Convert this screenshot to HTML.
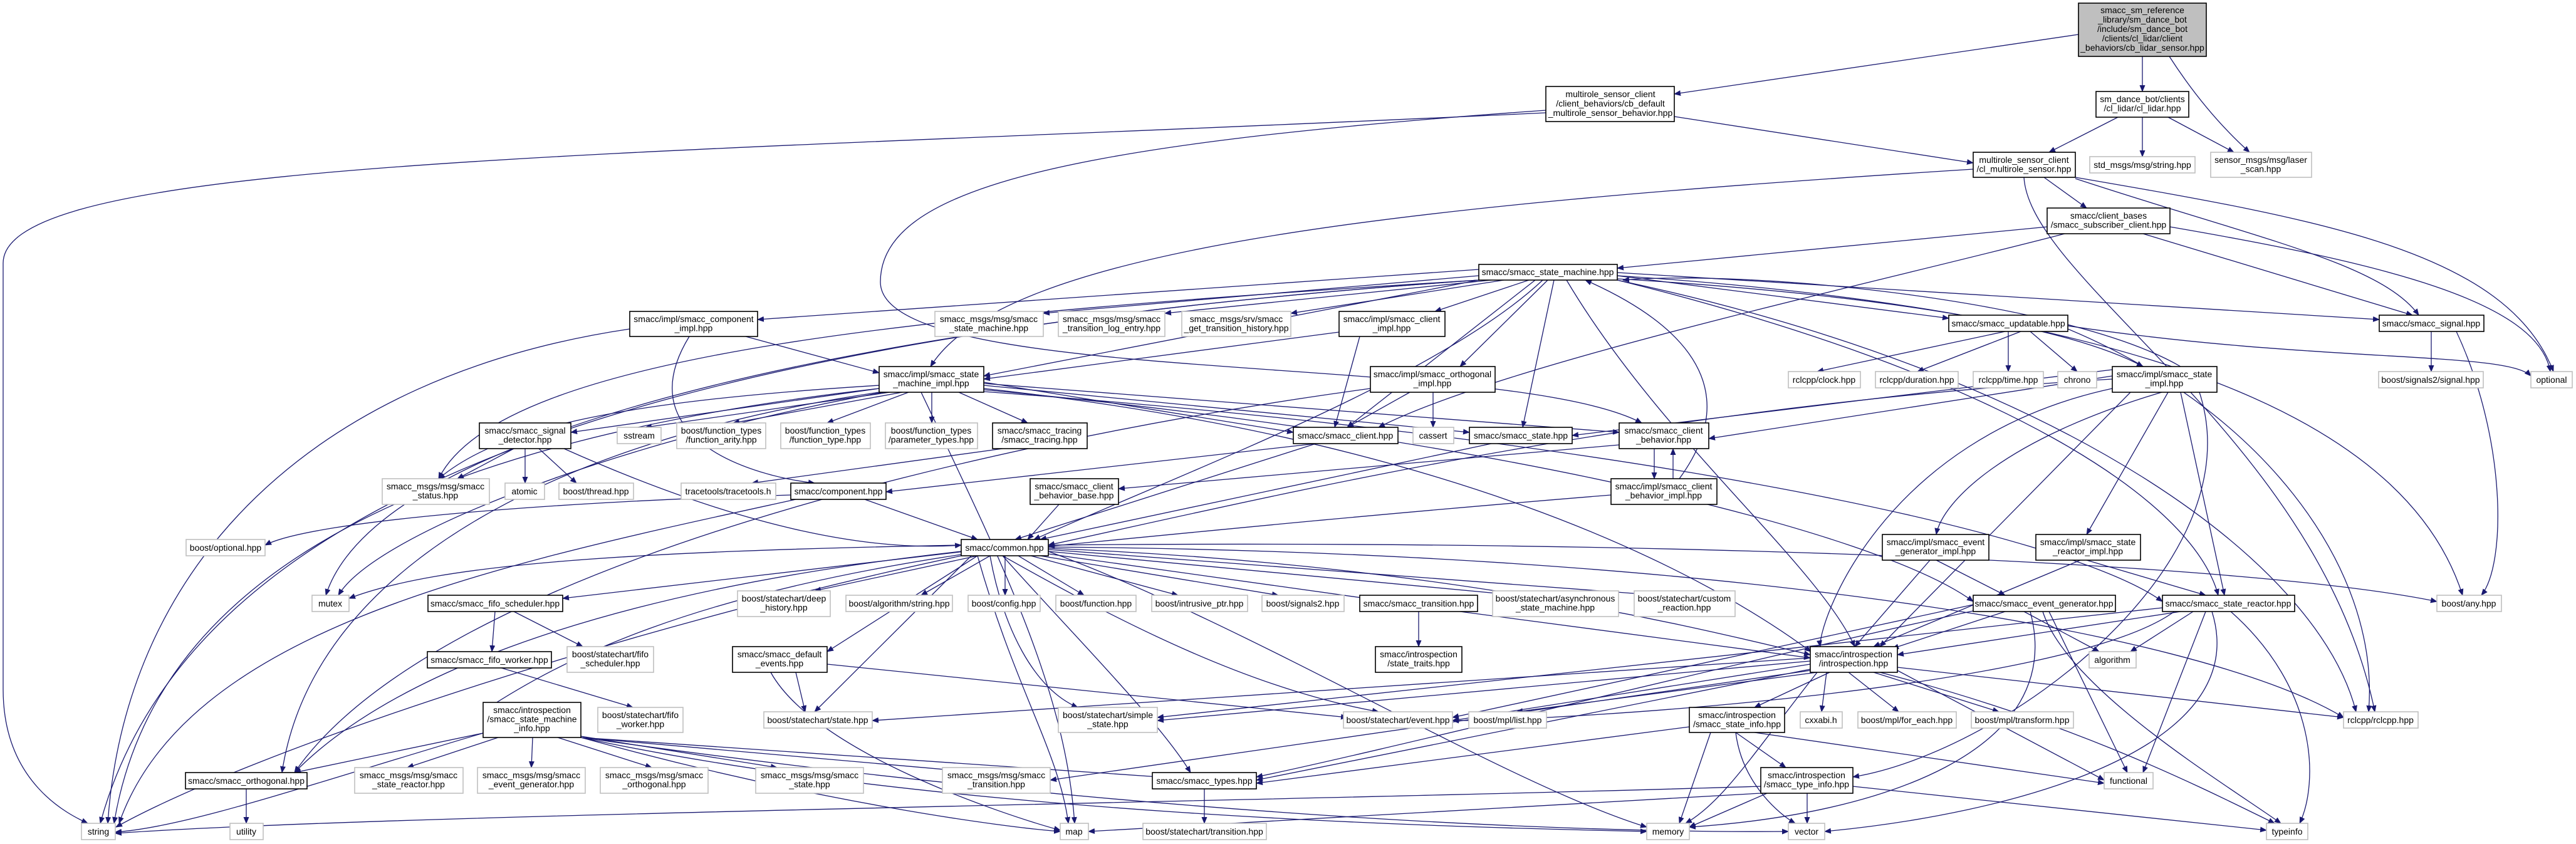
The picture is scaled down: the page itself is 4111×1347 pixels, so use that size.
<!DOCTYPE html>
<html><head><meta charset="utf-8"><style>
html,body{margin:0;padding:0;background:#fff;}
svg{display:block;}
text{font-family:"Liberation Sans",sans-serif;font-size:14px;fill:#000;text-anchor:middle;}
.d{fill:#fff;stroke:#000;stroke-width:1.6;}
.e{fill:#fff;stroke:#bfbfbf;stroke-width:1.6;}
.t{fill:#bfbfbf;stroke:#000;stroke-width:1.6;}
</style></head><body>
<svg width="4111" height="1347" viewBox="0 0 4111 1347" xmlns="http://www.w3.org/2000/svg">
<defs><marker id="a" markerWidth="11" markerHeight="9" refX="10" refY="4.5" orient="auto" markerUnits="userSpaceOnUse"><path d="M0,0 L11,4.5 L0,9 z" fill="#191970"/></marker></defs>
<g stroke="#191970" stroke-width="1.3" fill="none" marker-end="url(#a)">
<path d="M3317,55 L2672,150"/>
<path d="M3419,90 L3419,146"/>
<path d="M3462,90 Q3520,180 3590,243"/>
<path d="M3380,187 L3270,243"/>
<path d="M3419,187 L3419,250"/>
<path d="M3460,187 L3565,243"/>
<path d="M2672,186 L3149,260"/>
<path d="M2467,180 C1000,250 5,250 5,420 L5,1100 C5,1250 110,1300 140,1314"/>
<path d="M2467,176 C1700,230 1405,300 1405,450 C1405,620 2400,560 2620,675"/>
<path d="M3149,270 C2200,330 1600,400 1485,585"/>
<path d="M3262,283 L3330,332"/>
<path d="M3312,285 C3600,380 3800,420 3860,503"/>
<path d="M3312,283 C3700,350 4000,400 4075,593"/>
<path d="M3230,283 C3240,450 3700,700 3790,1136"/>
<path d="M3267,362 L2581,428"/>
<path d="M3295,373 C3000,450 2400,580 2200,682"/>
<path d="M3420,373 L3850,503"/>
<path d="M3463,362 C3800,420 4050,480 4070,593"/>
<path d="M2360,430 L1209,510"/>
<path d="M2360,440 L1665,500"/>
<path d="M2380,447 L1859,500"/>
<path d="M2400,447 L2060,500"/>
<path d="M2440,447 L2290,497"/>
<path d="M2360,447 L1570,600"/>
<path d="M2470,447 L2330,585"/>
<path d="M2480,447 L2430,682"/>
<path d="M2462,447 C2300,600 1900,750 1650,861"/>
<path d="M2581,440 L3110,508"/>
<path d="M2581,435 L3797,510"/>
<path d="M2581,445 C3000,470 3300,520 3420,585"/>
<path d="M2500,447 C2650,700 2900,900 2960,1032"/>
<path d="M2581,440 C3500,500 3850,700 3930,950"/>
<path d="M2581,447 C3300,600 3700,900 3760,1136"/>
<path d="M2360,447 C1500,500 800,560 700,764"/>
<path d="M2360,447 C1300,520 600,700 520,950"/>
<path d="M2450,447 L2150,682"/>
<path d="M2581,447 C3200,600 3500,800 3540,950"/>
<path d="M2360,447 C1000,540 300,800 160,1314"/>
<path d="M1190,537 L1403,595"/>
<path d="M1100,537 C1000,700 1200,760 1300,771"/>
<path d="M1005,525 C500,600 200,900 172,1314"/>
<path d="M2137,530 L1570,605"/>
<path d="M2170,537 L2130,682"/>
<path d="M2250,626 L2150,682"/>
<path d="M2287,626 L2287,682"/>
<path d="M2187,620 C1600,700 700,900 470,1233"/>
<path d="M3371,590 L2509,695"/>
<path d="M3371,600 L2727,700"/>
<path d="M3371,605 C2600,650 2000,800 1673,870"/>
<path d="M3450,626 C3200,700 3100,800 3090,853"/>
<path d="M3460,626 L3330,853"/>
<path d="M3400,626 L3000,1032"/>
<path d="M3480,626 L3550,950"/>
<path d="M3510,626 C3600,900 3200,1200 2957,1240"/>
<path d="M3480,585 C3300,480 2800,430 2590,447"/>
<path d="M3371,620 C3000,700 2900,1000 2905,1032"/>
<path d="M3200,529 L2900,593"/>
<path d="M3225,529 L3060,593"/>
<path d="M3205,529 L3205,593"/>
<path d="M3240,529 L3315,593"/>
<path d="M3300,520 C3700,580 4000,560 4039,600"/>
<path d="M3300,525 C3600,650 3800,900 3780,1136"/>
<path d="M3880,529 L3880,593"/>
<path d="M3920,529 C4000,700 4000,900 3960,950"/>
<path d="M1403,615 C1000,640 800,680 700,764"/>
<path d="M1403,620 L911,690"/>
<path d="M1420,626 L1030,682"/>
<path d="M1440,626 L1170,675"/>
<path d="M1450,626 L1320,675"/>
<path d="M1487,626 L1487,675"/>
<path d="M1530,626 L1640,675"/>
<path d="M1570,610 L2064,690"/>
<path d="M1570,615 L2345,690"/>
<path d="M1403,626 C900,700 500,900 450,1233"/>
<path d="M1403,620 C700,700 250,900 182,1314"/>
<path d="M1470,626 C1600,900 1700,1100 1715,1314"/>
<path d="M1570,620 C2300,700 2700,900 2890,1040"/>
<path d="M1570,622 C2400,700 3000,850 3149,960"/>
<path d="M1570,625 C2600,700 3300,850 3451,960"/>
<path d="M1410,626 C1000,700 600,850 540,950"/>
<path d="M1570,612 L2584,690"/>
<path d="M820,716 L730,764"/>
<path d="M838,716 L838,771"/>
<path d="M860,716 L920,771"/>
<path d="M900,716 C1200,850 1400,880 1534,870"/>
<path d="M1600,716 L1200,771"/>
<path d="M2100,708 L1414,785"/>
<path d="M2100,708 L1620,861"/>
<path d="M2380,708 L1660,861"/>
<path d="M2584,710 L1785,780"/>
<path d="M2640,716 L2640,764"/>
<path d="M2670,764 L2670,716"/>
<path d="M2680,764 C2800,600 2650,500 2530,447"/>
<path d="M1380,797 L1560,861"/>
<path d="M1262,790 C900,800 500,830 423,870"/>
<path d="M1270,797 C800,900 300,1000 190,1314"/>
<path d="M1690,805 L1640,861"/>
<path d="M2571,790 C2200,820 1900,850 1673,872"/>
<path d="M1534,870 C1000,880 700,900 557,955"/>
<path d="M1540,880 L898,955"/>
<path d="M1560,887 L1300,943"/>
<path d="M1580,887 L1470,950"/>
<path d="M1604,887 L1604,950"/>
<path d="M1625,887 L1730,950"/>
<path d="M1645,887 L1880,950"/>
<path d="M1660,887 L2040,950"/>
<path d="M1673,884 L2180,955"/>
<path d="M1673,880 L2400,948"/>
<path d="M1673,877 L2620,948"/>
<path d="M1534,880 C900,950 600,1100 470,1233"/>
<path d="M1534,885 C1100,950 900,1050 771,1135"/>
<path d="M1560,887 L1320,1040"/>
<path d="M1550,887 L1300,1136"/>
<path d="M1580,887 C1600,1000 1650,1100 1720,1129"/>
<path d="M1600,887 C1700,1000 1850,1150 1900,1233"/>
<path d="M1560,887 C1620,1100 1690,1200 1705,1314"/>
<path d="M1673,875 C2300,900 2700,1000 2889,1045"/>
<path d="M1673,870 C2700,860 3600,900 3889,960"/>
<path d="M1673,873 C2700,880 3500,1000 3740,1145"/>
<path d="M1600,887 C1800,1000 2000,1100 2200,1136"/>
<path d="M1534,887 C1000,1000 400,1200 185,1320"/>
<path d="M1673,880 C2000,1000 2400,1250 2628,1320"/>
<path d="M790,976 L785,1040"/>
<path d="M820,976 L930,1032"/>
<path d="M800,1066 L1010,1129"/>
<path d="M1270,1073 L1285,1136"/>
<path d="M1320,1060 L2150,1145"/>
<path d="M1230,1073 C1300,1200 1600,1300 1692,1325"/>
<path d="M2264,976 L2264,1032"/>
<path d="M2330,976 L2889,1050"/>
<path d="M771,1170 L470,1233"/>
<path d="M795,1177 L650,1225"/>
<path d="M850,1177 L848,1225"/>
<path d="M890,1177 L1040,1225"/>
<path d="M927,1175 L1240,1225"/>
<path d="M927,1177 L1530,1230"/>
<path d="M927,1177 L1850,1240"/>
<path d="M771,1170 C500,1250 300,1320 184,1328"/>
<path d="M927,1177 C1300,1280 1600,1320 1692,1327"/>
<path d="M927,1177 C1500,1300 2300,1320 2628,1327"/>
<path d="M927,1177 C1800,1300 2500,1330 2854,1327"/>
<path d="M3200,976 L3020,1035"/>
<path d="M3230,976 L3350,1040"/>
<path d="M3149,965 L2318,1145"/>
<path d="M3260,976 C3300,1100 3550,1250 3640,1314"/>
<path d="M3270,976 L3395,1233"/>
<path d="M3149,975 C2800,1050 2200,1200 2005,1240"/>
<path d="M3240,976 C3300,1200 3000,1300 2696,1320"/>
<path d="M3480,976 L3028,1045"/>
<path d="M3500,976 L3400,1040"/>
<path d="M3520,976 L3420,1233"/>
<path d="M3530,976 C3600,1200 3200,1300 2912,1327"/>
<path d="M3560,976 C3700,1100 3700,1250 3670,1314"/>
<path d="M3451,970 L1847,1145"/>
<path d="M3470,976 C3300,1100 2500,1150 2318,1150"/>
<path d="M3090,894 L3200,950"/>
<path d="M3080,894 L2960,1032"/>
<path d="M3330,894 L3520,950"/>
<path d="M3320,894 L2990,1032"/>
<path d="M2889,1050 L1392,1150"/>
<path d="M2889,1055 L1847,1150"/>
<path d="M2889,1060 L2318,1150"/>
<path d="M2900,1073 L2420,1136"/>
<path d="M2920,1073 L2800,1129"/>
<path d="M2915,1073 L2907,1136"/>
<path d="M2950,1073 L3030,1136"/>
<path d="M2990,1073 L3190,1136"/>
<path d="M3028,1065 L3740,1145"/>
<path d="M2889,1068 L2005,1245"/>
<path d="M2900,1073 C2800,1200 2750,1280 2690,1314"/>
<path d="M3000,1073 C3300,1150 3500,1250 3630,1314"/>
<path d="M2889,1070 L1676,1245"/>
<path d="M3028,1070 L3358,1245"/>
<path d="M2770,1169 L2850,1225"/>
<path d="M2770,1169 C2780,1250 2840,1300 2865,1314"/>
<path d="M2800,1169 L3358,1250"/>
<path d="M2696,1160 L2005,1250"/>
<path d="M2730,1169 L2680,1314"/>
<path d="M2884,1266 L2884,1314"/>
<path d="M2957,1255 L3617,1325"/>
<path d="M2810,1255 C2000,1280 600,1300 184,1330"/>
<path d="M2820,1266 L2696,1320"/>
<path d="M2810,1266 L1737,1327"/>
<path d="M1922,1259 L1922,1314"/>
<path d="M393,1259 L393,1314"/>
</g>
<g>
<rect class="t" x="3317" y="5" width="204" height="85"/><text x="3419" y="21"><tspan x="3419">smacc_sm_reference</tspan><tspan x="3419" dy="15">_library/sm_dance_bot</tspan><tspan x="3419" dy="15">/include/sm_dance_bot</tspan><tspan x="3419" dy="15">/clients/cl_lidar/client</tspan><tspan x="3419" dy="15">_behaviors/cb_lidar_sensor.hpp</tspan></text>
<rect class="d" x="2467" y="138" width="205" height="56"/><text y="155"><tspan x="2570">multirole_sensor_client</tspan><tspan x="2570" dy="15">/client_behaviors/cb_default</tspan><tspan x="2570" dy="15">_multirole_sensor_behavior.hpp</tspan></text>
<rect class="d" x="3345" y="146" width="148" height="41"/><text y="163"><tspan x="3419">sm_dance_bot/clients</tspan><tspan x="3419" dy="14.5">/cl_lidar/cl_lidar.hpp</tspan></text>
<rect class="d" x="3149" y="243" width="163" height="40"/><text y="260"><tspan x="3230">multirole_sensor_client</tspan><tspan x="3230" dy="14.5">/cl_multirole_sensor.hpp</tspan></text>
<rect class="e" x="3335" y="250" width="168" height="26"/><text x="3419" y="268">std_msgs/msg/string.hpp</text>
<rect class="e" x="3528" y="243" width="161" height="40"/><text y="260"><tspan x="3608">sensor_msgs/msg/laser</tspan><tspan x="3608" dy="14.5">_scan.hpp</tspan></text>
<rect class="d" x="3267" y="332" width="196" height="41"/><text y="349"><tspan x="3365">smacc/client_bases</tspan><tspan x="3365" dy="14.5">/smacc_subscriber_client.hpp</tspan></text>
<rect class="d" x="2360" y="422" width="221" height="25"/><text x="2470" y="439">smacc/smacc_state_machine.hpp</text>
<rect class="d" x="1005" y="497" width="204" height="40"/><text y="514"><tspan x="1107">smacc/impl/smacc_component</tspan><tspan x="1107" dy="14.5">_impl.hpp</tspan></text>
<rect class="e" x="1492" y="497" width="173" height="40"/><text y="514"><tspan x="1578">smacc_msgs/msg/smacc</tspan><tspan x="1578" dy="14.5">_state_machine.hpp</tspan></text>
<rect class="e" x="1689" y="497" width="170" height="40"/><text y="514"><tspan x="1774">smacc_msgs/msg/smacc</tspan><tspan x="1774" dy="14.5">_transition_log_entry.hpp</tspan></text>
<rect class="e" x="1886" y="497" width="174" height="40"/><text y="514"><tspan x="1973">smacc_msgs/srv/smacc</tspan><tspan x="1973" dy="14.5">_get_transition_history.hpp</tspan></text>
<rect class="d" x="2137" y="497" width="169" height="40"/><text y="514"><tspan x="2221">smacc/impl/smacc_client</tspan><tspan x="2221" dy="14.5">_impl.hpp</tspan></text>
<rect class="d" x="3110" y="503" width="190" height="26"/><text x="3205" y="521">smacc/smacc_updatable.hpp</text>
<rect class="d" x="3797" y="503" width="167" height="26"/><text x="3880" y="521">smacc/smacc_signal.hpp</text>
<rect class="d" x="1403" y="585" width="167" height="41"/><text y="602"><tspan x="1486">smacc/impl/smacc_state</tspan><tspan x="1486" dy="14.5">_machine_impl.hpp</tspan></text>
<rect class="d" x="2187" y="585" width="199" height="41"/><text y="602"><tspan x="2286">smacc/impl/smacc_orthogonal</tspan><tspan x="2286" dy="14.5">_impl.hpp</tspan></text>
<rect class="e" x="2854" y="593" width="115" height="26"/><text x="2911" y="611">rclcpp/clock.hpp</text>
<rect class="e" x="2993" y="593" width="132" height="26"/><text x="3059" y="611">rclcpp/duration.hpp</text>
<rect class="e" x="3149" y="593" width="112" height="26"/><text x="3205" y="611">rclcpp/time.hpp</text>
<rect class="e" x="3284" y="593" width="62" height="26"/><text x="3315" y="611">chrono</text>
<rect class="d" x="3371" y="585" width="167" height="41"/><text y="602"><tspan x="3454">smacc/impl/smacc_state</tspan><tspan x="3454" dy="14.5">_impl.hpp</tspan></text>
<rect class="e" x="3796" y="593" width="167" height="26"/><text x="3879" y="611">boost/signals2/signal.hpp</text>
<rect class="e" x="4039" y="593" width="66" height="26"/><text x="4072" y="611">optional</text>
<rect class="d" x="765" y="675" width="146" height="41"/><text y="692"><tspan x="838">smacc/smacc_signal</tspan><tspan x="838" dy="14.5">_detector.hpp</tspan></text>
<rect class="e" x="985" y="682" width="70" height="26"/><text x="1020" y="700">sstream</text>
<rect class="e" x="1080" y="675" width="142" height="41"/><text y="692"><tspan x="1151">boost/function_types</tspan><tspan x="1151" dy="14.5">/function_arity.hpp</tspan></text>
<rect class="e" x="1246" y="675" width="143" height="41"/><text y="692"><tspan x="1317">boost/function_types</tspan><tspan x="1317" dy="14.5">/function_type.hpp</tspan></text>
<rect class="e" x="1413" y="675" width="147" height="41"/><text y="692"><tspan x="1486">boost/function_types</tspan><tspan x="1486" dy="14.5">/parameter_types.hpp</tspan></text>
<rect class="d" x="1584" y="675" width="151" height="41"/><text y="692"><tspan x="1659">smacc/smacc_tracing</tspan><tspan x="1659" dy="14.5">/smacc_tracing.hpp</tspan></text>
<rect class="d" x="2064" y="682" width="167" height="26"/><text x="2147" y="700">smacc/smacc_client.hpp</text>
<rect class="e" x="2255" y="682" width="65" height="26"/><text x="2287" y="700">cassert</text>
<rect class="d" x="2345" y="682" width="164" height="26"/><text x="2427" y="700">smacc/smacc_state.hpp</text>
<rect class="d" x="2584" y="675" width="143" height="41"/><text y="692"><tspan x="2655">smacc/smacc_client</tspan><tspan x="2655" dy="14.5">_behavior.hpp</tspan></text>
<rect class="e" x="610" y="764" width="171" height="41"/><text y="781"><tspan x="695">smacc_msgs/msg/smacc</tspan><tspan x="695" dy="14.5">_status.hpp</tspan></text>
<rect class="e" x="806" y="771" width="63" height="26"/><text x="837" y="789">atomic</text>
<rect class="e" x="892" y="771" width="119" height="26"/><text x="951" y="789">boost/thread.hpp</text>
<rect class="e" x="1087" y="771" width="151" height="26"/><text x="1162" y="789">tracetools/tracetools.h</text>
<rect class="d" x="1262" y="771" width="152" height="26"/><text x="1338" y="789">smacc/component.hpp</text>
<rect class="d" x="1644" y="764" width="141" height="41"/><text y="781"><tspan x="1714">smacc/smacc_client</tspan><tspan x="1714" dy="14.5">_behavior_base.hpp</tspan></text>
<rect class="d" x="2571" y="764" width="169" height="41"/><text y="781"><tspan x="2655">smacc/impl/smacc_client</tspan><tspan x="2655" dy="14.5">_behavior_impl.hpp</tspan></text>
<rect class="e" x="297" y="861" width="126" height="26"/><text x="360" y="879">boost/optional.hpp</text>
<rect class="d" x="1534" y="861" width="139" height="26"/><text x="1603" y="879">smacc/common.hpp</text>
<rect class="d" x="3004" y="853" width="170" height="41"/><text y="870"><tspan x="3089">smacc/impl/smacc_event</tspan><tspan x="3089" dy="14.5">_generator_impl.hpp</tspan></text>
<rect class="d" x="3249" y="853" width="167" height="41"/><text y="870"><tspan x="3332">smacc/impl/smacc_state</tspan><tspan x="3332" dy="14.5">_reactor_impl.hpp</tspan></text>
<rect class="e" x="498" y="950" width="59" height="26"/><text x="527" y="968">mutex</text>
<rect class="d" x="683" y="950" width="215" height="26"/><text x="790" y="968">smacc/smacc_fifo_scheduler.hpp</text>
<rect class="e" x="1177" y="943" width="148" height="41"/><text y="960"><tspan x="1251">boost/statechart/deep</tspan><tspan x="1251" dy="14.5">_history.hpp</tspan></text>
<rect class="e" x="1350" y="950" width="170" height="26"/><text x="1435" y="968">boost/algorithm/string.hpp</text>
<rect class="e" x="1545" y="950" width="115" height="26"/><text x="1602" y="968">boost/config.hpp</text>
<rect class="e" x="1685" y="950" width="128" height="26"/><text x="1749" y="968">boost/function.hpp</text>
<rect class="e" x="1838" y="950" width="153" height="26"/><text x="1914" y="968">boost/intrusive_ptr.hpp</text>
<rect class="e" x="2014" y="950" width="131" height="26"/><text x="2079" y="968">boost/signals2.hpp</text>
<rect class="d" x="2170" y="950" width="188" height="26"/><text x="2264" y="968">smacc/smacc_transition.hpp</text>
<rect class="e" x="2382" y="943" width="201" height="41"/><text y="960"><tspan x="2482">boost/statechart/asynchronous</tspan><tspan x="2482" dy="14.5">_state_machine.hpp</tspan></text>
<rect class="e" x="2608" y="943" width="161" height="41"/><text y="960"><tspan x="2688">boost/statechart/custom</tspan><tspan x="2688" dy="14.5">_reaction.hpp</tspan></text>
<rect class="d" x="3149" y="950" width="227" height="26"/><text x="3262" y="968">smacc/smacc_event_generator.hpp</text>
<rect class="d" x="3451" y="950" width="211" height="26"/><text x="3556" y="968">smacc/smacc_state_reactor.hpp</text>
<rect class="e" x="3889" y="950" width="103" height="26"/><text x="3940" y="968">boost/any.hpp</text>
<rect class="d" x="682" y="1040" width="198" height="26"/><text x="781" y="1058">smacc/smacc_fifo_worker.hpp</text>
<rect class="e" x="905" y="1032" width="138" height="41"/><text y="1049"><tspan x="974">boost/statechart/fifo</tspan><tspan x="974" dy="14.5">_scheduler.hpp</tspan></text>
<rect class="d" x="1169" y="1032" width="151" height="41"/><text y="1049"><tspan x="1244">smacc/smacc_default</tspan><tspan x="1244" dy="14.5">_events.hpp</tspan></text>
<rect class="d" x="2195" y="1032" width="138" height="41"/><text y="1049"><tspan x="2264">smacc/introspection</tspan><tspan x="2264" dy="14.5">/state_traits.hpp</tspan></text>
<rect class="d" x="2889" y="1032" width="139" height="41"/><text y="1049"><tspan x="2958">smacc/introspection</tspan><tspan x="2958" dy="14.5">/introspection.hpp</tspan></text>
<rect class="e" x="3334" y="1040" width="75" height="26"/><text x="3371" y="1058">algorithm</text>
<rect class="d" x="771" y="1121" width="156" height="56"/><text y="1138"><tspan x="849">smacc/introspection</tspan><tspan x="849" dy="14.5">/smacc_state_machine</tspan><tspan x="849" dy="14.5">_info.hpp</tspan></text>
<rect class="e" x="954" y="1129" width="136" height="40"/><text y="1146"><tspan x="1022">boost/statechart/fifo</tspan><tspan x="1022" dy="14.5">_worker.hpp</tspan></text>
<rect class="e" x="1219" y="1136" width="173" height="26"/><text x="1305" y="1154">boost/statechart/state.hpp</text>
<rect class="e" x="1689" y="1129" width="158" height="40"/><text y="1146"><tspan x="1768">boost/statechart/simple</tspan><tspan x="1768" dy="14.5">_state.hpp</tspan></text>
<rect class="e" x="2144" y="1136" width="174" height="26"/><text x="2231" y="1154">boost/statechart/event.hpp</text>
<rect class="e" x="2344" y="1136" width="124" height="26"/><text x="2406" y="1154">boost/mpl/list.hpp</text>
<rect class="d" x="2696" y="1129" width="152" height="40"/><text y="1146"><tspan x="2772">smacc/introspection</tspan><tspan x="2772" dy="14.5">/smacc_state_info.hpp</tspan></text>
<rect class="e" x="2873" y="1136" width="67" height="26"/><text x="2906" y="1154">cxxabi.h</text>
<rect class="e" x="2965" y="1136" width="157" height="26"/><text x="3043" y="1154">boost/mpl/for_each.hpp</text>
<rect class="e" x="3146" y="1136" width="163" height="26"/><text x="3227" y="1154">boost/mpl/transform.hpp</text>
<rect class="e" x="3740" y="1136" width="119" height="26"/><text x="3799" y="1154">rclcpp/rclcpp.hpp</text>
<rect class="d" x="296" y="1233" width="194" height="26"/><text x="393" y="1251">smacc/smacc_orthogonal.hpp</text>
<rect class="e" x="566" y="1225" width="173" height="41"/><text y="1242"><tspan x="652">smacc_msgs/msg/smacc</tspan><tspan x="652" dy="14.5">_state_reactor.hpp</tspan></text>
<rect class="e" x="762" y="1225" width="172" height="41"/><text y="1242"><tspan x="848">smacc_msgs/msg/smacc</tspan><tspan x="848" dy="14.5">_event_generator.hpp</tspan></text>
<rect class="e" x="958" y="1225" width="172" height="41"/><text y="1242"><tspan x="1044">smacc_msgs/msg/smacc</tspan><tspan x="1044" dy="14.5">_orthogonal.hpp</tspan></text>
<rect class="e" x="1206" y="1225" width="172" height="41"/><text y="1242"><tspan x="1292">smacc_msgs/msg/smacc</tspan><tspan x="1292" dy="14.5">_state.hpp</tspan></text>
<rect class="e" x="1504" y="1225" width="172" height="41"/><text y="1242"><tspan x="1590">smacc_msgs/msg/smacc</tspan><tspan x="1590" dy="14.5">_transition.hpp</tspan></text>
<rect class="d" x="1839" y="1233" width="166" height="26"/><text x="1922" y="1251">smacc/smacc_types.hpp</text>
<rect class="d" x="2810" y="1225" width="147" height="41"/><text y="1242"><tspan x="2883">smacc/introspection</tspan><tspan x="2883" dy="14.5">/smacc_type_info.hpp</tspan></text>
<rect class="e" x="3358" y="1233" width="78" height="26"/><text x="3397" y="1251">functional</text>
<rect class="e" x="130" y="1314" width="54" height="26"/><text x="157" y="1332">string</text>
<rect class="e" x="367" y="1314" width="53" height="26"/><text x="393" y="1332">utility</text>
<rect class="e" x="1692" y="1314" width="45" height="26"/><text x="1714" y="1332">map</text>
<rect class="e" x="1824" y="1314" width="197" height="26"/><text x="1922" y="1332">boost/statechart/transition.hpp</text>
<rect class="e" x="2628" y="1314" width="68" height="26"/><text x="2662" y="1332">memory</text>
<rect class="e" x="2854" y="1314" width="58" height="26"/><text x="2883" y="1332">vector</text>
<rect class="e" x="3617" y="1314" width="66" height="26"/><text x="3650" y="1332">typeinfo</text>
</g>
</svg>
</body></html>
